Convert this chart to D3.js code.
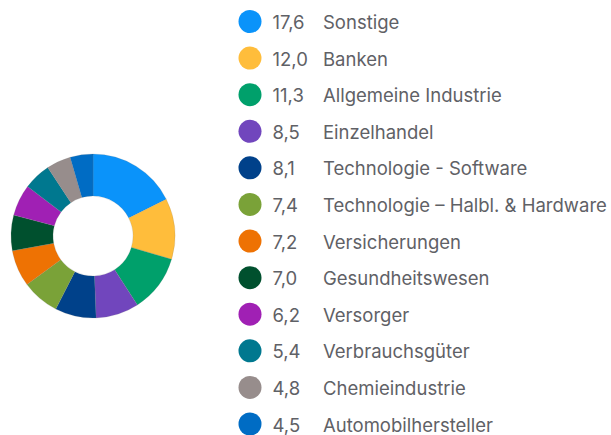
<!DOCTYPE html>
<html><head><meta charset="utf-8">
<script src="https://cdn.jsdelivr.net/npm/d3@7"></script>
<style>html,body{margin:0;padding:0;background:#fff;overflow:hidden}</style>
</head><body>
<svg id="c" width="611" height="435"></svg>
<script>
const categories = ["Sonstige","Banken","Allgemeine Industrie","Einzelhandel","Technologie - Software","Technologie – Halbl. & Hardware","Versicherungen","Gesundheitswesen","Versorger","Verbrauchsgüter","Chemieindustrie","Automobilhersteller"];
const values = [17.6,12.0,11.3,8.5,8.1,7.4,7.2,7.0,6.2,5.4,4.8,4.5];
const valueLabels = ["17,6","12,0","11,3","8,5","8,1","7,4","7,2","7,0","6,2","5,4","4,8","4,5"];
const colors = ["#0A93FA","#FFBD3B","#00A06B","#7146BD","#00418A","#7AA238","#EE7203","#00502E","#A020B4","#00788F","#978D8C","#006CC4"];

const svg = d3.select("#c");
const font = "Inter, 'Noto Sans', sans-serif";
const textColor = "#5f6166";

// title, clipped at the top edge as in the reference
svg.append("text").attr("x",104).attr("y",-3).attr("font-family",font).attr("font-size",16).attr("fill",textColor).text("(%)");

const cx = 93, cy = 236, rOuter = 82, rInner = 40;
const pie = d3.pie().sort(null).value(d=>d.v);
const data = pie(categories.map((c,i)=>({c, v: values[i], i})));
const arc = d3.arc().innerRadius(rInner).outerRadius(rOuter);
svg.append("g").attr("transform",`translate(${cx},${cy})`)
  .selectAll("path").data(data).join("path")
  .attr("d",arc).attr("fill",d=>colors[d.data.i])
  .attr("stroke","rgba(120,120,120,0.35)").attr("stroke-width",0.5);

const y = d3.scaleLinear().domain([0, categories.length-1]).range([21.5, 424]);
const lg = svg.append("g");
const rows = lg.selectAll("g").data(categories).join("g")
  .attr("transform",(d,i)=>`translate(0,${y(i)})`);
rows.append("circle").attr("cx",250).attr("cy",0).attr("r",11.5).attr("fill",(d,i)=>colors[i]);
rows.append("text").attr("x",272.5).attr("y",7.5).attr("font-family",font).attr("font-size",18.5).attr("fill",textColor).text((d,i)=>valueLabels[i]);
rows.append("text").attr("x",323).attr("y",7.5).attr("font-family",font).attr("font-size",18.5).attr("fill",textColor).text(d=>d);
</script>
</body></html>
